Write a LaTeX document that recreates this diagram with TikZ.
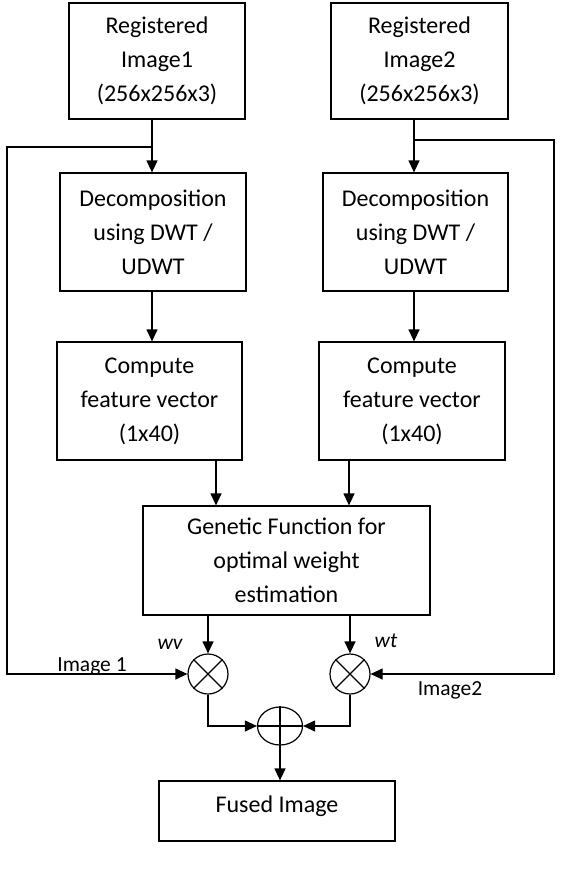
\documentclass[tikz,border=0pt]{standalone}
\usepackage{fontspec}
\setmainfont{Carlito}
\usetikzlibrary{arrows.meta,shapes.geometric}
\begin{document}
\begin{tikzpicture}[x=1pt,y=-1pt,
  box/.style={draw, line width=1.2pt, inner sep=0pt, align=center,
    font=\fontsize{24}{34}\selectfont},
  conn/.style={line width=1.2pt},
  arr/.style={conn,-{Triangle[length=12pt,width=11pt]}},
  lab/.style={font=\fontsize{21.5}{26}\selectfont, inner sep=0pt},
  mult/.style={circle, draw, line width=1.2pt, minimum size=40pt, inner sep=0pt},
  ]
\useasboundingbox (0,0) rectangle (586,876);

% boxes
\node[box, minimum width=176pt, minimum height=116pt] (r1) at (157,61) {Registered\\Image1\\(256x256x3)};
\node[box, minimum width=177pt, minimum height=116pt] (r2) at (419.5,61) {Registered\\Image2\\(256x256x3)};
\node[box, minimum width=186pt, minimum height=118pt] (d1) at (153,232) {Decomposition\\using DWT /\\UDWT};
\node[box, minimum width=185pt, minimum height=118pt] (d2) at (415.5,232) {Decomposition\\using DWT /\\UDWT};
\node[box, minimum width=185pt, minimum height=118pt] (c1) at (149.5,401) {Compute\\feature vector\\(1x40)};
\node[box, minimum width=186pt, minimum height=118pt] (c2) at (412,401) {Compute\\feature vector\\(1x40)};
\node[box, minimum width=287pt, minimum height=109pt] (ga) at (286.5,560.5) {Genetic Function for\\optimal weight\\estimation};
\node[box, minimum width=236pt, minimum height=60pt, text height=10pt, text depth=8pt] (f) at (277,811) {Fused Image};

% operators
\node[mult] (m1) at (208,674) {};
\node[mult] (m2) at (350,674) {};
\node[ellipse, draw, line width=1.2pt, minimum width=45pt, minimum height=38pt, inner sep=0pt] (s) at (280,726) {};
\draw[conn] (m1.45) -- (m1.225) (m1.135) -- (m1.315);
\draw[conn] (m2.45) -- (m2.225) (m2.135) -- (m2.315);
\draw[conn] (s.west) -- (s.east) (s.north) -- (s.south);

% junction coordinates
\coordinate (j1) at (152,147);
\coordinate (lc) at (7,147);
\coordinate (j2) at (414,140);
\coordinate (rc) at (554,140);
\coordinate (k1) at (216,480);
\coordinate (k2) at (349,480);

% vertical flow
\draw[arr] (j1 |- r1.south) -- (j1 |- d1.north);
\draw[arr] (j2 |- r2.south) -- (j2 |- d2.north);
\draw[arr] (j1 |- d1.south) -- (j1 |- c1.north);
\draw[arr] (j2 |- d2.south) -- (j2 |- c2.north);
\draw[arr] (k1 |- c1.south) -- (k1 |- ga.north);
\draw[arr] (k2 |- c2.south) -- (k2 |- ga.north);
\draw[arr] (m1 |- ga.south) -- (m1.north);
\draw[arr] (m2 |- ga.south) -- (m2.north);
\draw[arr] (m1.south) |- (s.west);
\draw[arr] (m2.south) |- (s.east);
\draw[arr] (s.south) -- (s.south |- f.north);

% feedback loops
\draw[arr] (j1) -- (lc) -- (lc |- m1) -- (m1.west);
\draw[arr] (j2) -- (rc) -- (rc |- m2) -- (m2.east);

% labels
\node[lab, anchor=base] (l1) at (92,671) {Image 1};
\node[lab, anchor=base] (l2) at (450,695) {Image2};
\node[lab, anchor=base] (wv) at (170,649) {\itshape wv};
\node[lab, anchor=base] (wt) at (386,647) {\itshape wt};
\end{tikzpicture}
\end{document}
